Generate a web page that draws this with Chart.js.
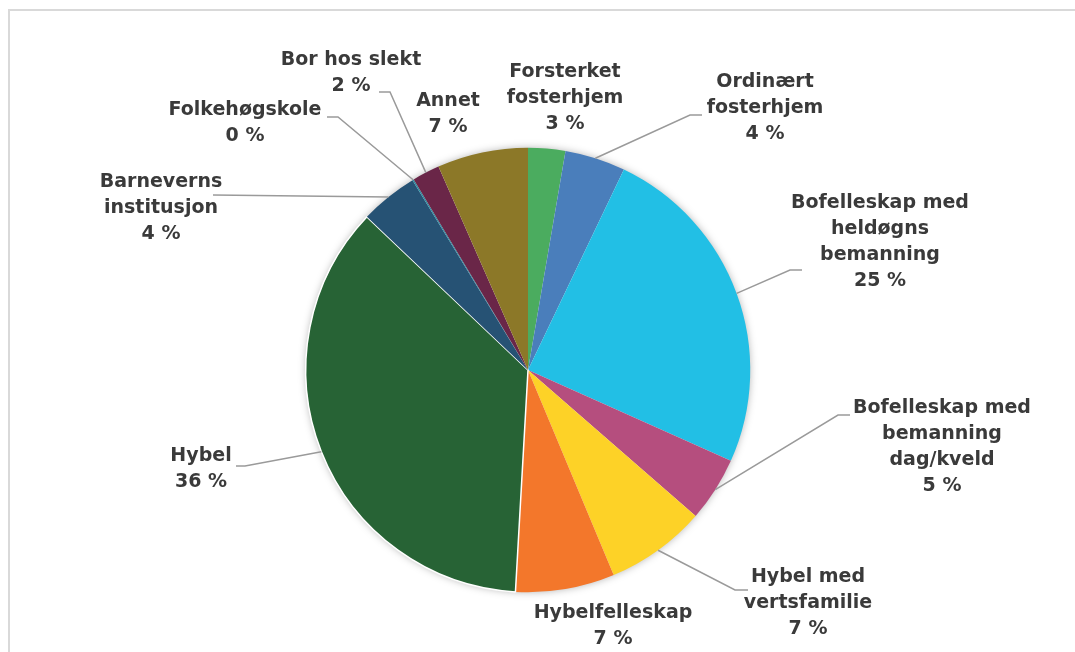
<!DOCTYPE html>
<html lang="no">
<head>
    <meta charset="UTF-8">
    <title>Bosted</title>
    <script src="https://cdn.jsdelivr.net/npm/chart.js"></script>
    <style>
        body {
            margin: 0;
            background: white;
            overflow: hidden;
        }
        #frame {
            position: absolute;
            left: 8px;
            top: 9px;
            width: 1100px;
            height: 700px;
            border: 2px solid #d9d9d9;
        }
        #wrap {
            position: absolute;
            left: 0;
            top: 0;
            width: 1075px;
            height: 652px;
        }
    </style>
</head>
<body>
    <div id="frame"></div>
    <div id="wrap"><canvas id="pie"></canvas></div>

    <script>
        // categories, clockwise from 12 o'clock
        const categories = [
            ["Forsterket", "fosterhjem"],
            ["Ordinært", "fosterhjem"],
            ["Bofelleskap med", "heldøgns", "bemanning"],
            ["Bofelleskap med", "bemanning", "dag/kveld"],
            ["Hybel med", "vertsfamilie"],
            ["Hybelfelleskap"],
            ["Hybel"],
            ["Barneverns", "institusjon"],
            ["Folkehøgskole"],
            ["Bor hos slekt"],
            ["Annet"]
        ];
        // share in percent
        const shares = [2.7, 4.4, 24.6, 4.7, 7.3, 7.2, 36.2, 4.2, 0.1, 2.0, 6.6];
        const colors = ["#4bac5f", "#4a7ebb", "#22bfe5", "#b54e7e", "#fdd227", "#f3772b",
                        "#276335", "#265274", "#2a8aa0", "#6a2648", "#8c7828"];

        // where each label sits (centre x, first line y) and its leader elbow
        const labelLayout = [
            { x: 565, y: 72 },
            { x: 765, y: 82, elbow: [690, 115], end: [702, 115] },
            { x: 880, y: 203, elbow: [790, 270], end: [802, 270] },
            { x: 942, y: 408, elbow: [838, 415], end: [850, 415] },
            { x: 808, y: 577, elbow: [735, 590], end: [748, 590] },
            { x: 613, y: 613 },
            { x: 201, y: 456, elbow: [245, 466], end: [236, 466] },
            { x: 161, y: 182, elbow: [213, 195], end: [213, 195] },
            { x: 245, y: 110, elbow: [338, 117], end: [327, 117] },
            { x: 351, y: 60, elbow: [390, 92], end: [379, 92] },
            { x: 448, y: 101 }
        ];

        const pieShadow = {
            id: 'pieShadow',
            beforeDatasetsDraw(chart) {
                const arc = chart.getDatasetMeta(0).data[0];
                if (!arc) return;
                const ctx = chart.ctx;
                ctx.save();
                ctx.shadowColor = 'rgba(0,0,0,0.35)';
                ctx.shadowBlur = 9;
                ctx.fillStyle = '#ffffff';
                ctx.beginPath();
                ctx.arc(arc.x, arc.y, arc.outerRadius - 1, 0, Math.PI * 2);
                ctx.fill();
                ctx.restore();
            }
        };

        const pieLabels = {
            id: 'pieLabels',
            afterDatasetsDraw(chart) {
                const ctx = chart.ctx;
                const meta = chart.getDatasetMeta(0);
                const total = shares.reduce((a, b) => a + b, 0);
                ctx.save();
                meta.data.forEach((arc, i) => {
                    const lay = labelLayout[i];
                    if (lay.elbow) {
                        const mid = (arc.startAngle + arc.endAngle) / 2;
                        const ax = arc.x + Math.cos(mid) * arc.outerRadius;
                        const ay = arc.y + Math.sin(mid) * arc.outerRadius;
                        ctx.strokeStyle = '#9a9a9a';
                        ctx.lineWidth = 1.5;
                        ctx.beginPath();
                        ctx.moveTo(ax, ay);
                        ctx.lineTo(lay.elbow[0], lay.elbow[1]);
                        ctx.lineTo(lay.end[0], lay.end[1]);
                        ctx.stroke();
                    }
                    const lines = categories[i].concat([Math.round(shares[i] / total * 100) + ' %']);
                    ctx.fillStyle = '#3a3a3a';
                    ctx.font = 'bold 19px "DejaVu Sans", Verdana, sans-serif';
                    ctx.textAlign = 'center';
                    ctx.textBaseline = 'middle';
                    lines.forEach((t, k) => ctx.fillText(t, lay.x, lay.y + k * 26));
                });
                ctx.restore();
            }
        };

        const ctx = document.getElementById('pie').getContext('2d');
        new Chart(ctx, {
            type: 'pie',
            data: {
                labels: categories,
                datasets: [{
                    data: shares,
                    backgroundColor: colors,
                    borderColor: '#ffffff',
                    borderWidth: [0, 0, 0, 0, 0, 0, 1.5, 0, 0, 0, 0],
                    hoverOffset: 0
                }]
            },
            options: {
                responsive: true,
                maintainAspectRatio: false,
                animation: false,
                layout: {
                    padding: { left: 305, right: 324, top: 147, bottom: 59 }
                },
                plugins: {
                    legend: { display: false },
                    tooltip: { enabled: false }
                }
            },
            plugins: [pieShadow, pieLabels]
        });
    </script>
</body>
</html>
